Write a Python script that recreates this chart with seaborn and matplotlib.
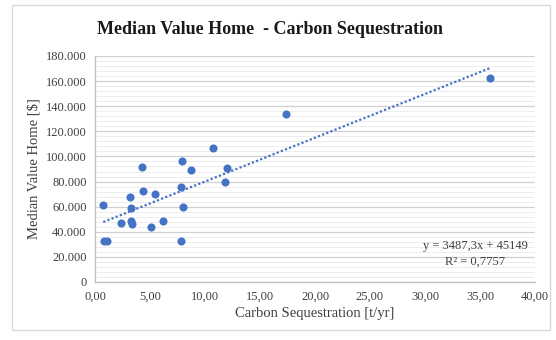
import matplotlib
matplotlib.use("Agg")
import matplotlib.pyplot as plt
import seaborn as sns
import numpy as np
import pandas as pd
from matplotlib.ticker import MultipleLocator, FuncFormatter
from matplotlib.patches import Rectangle

carbon = [0.75, 0.82, 1.06, 2.34, 3.18, 3.27, 3.25, 3.39, 4.30, 4.34, 5.06, 5.43,
          6.18, 7.94, 8.75, 7.79, 7.97, 7.85, 10.73, 11.97, 11.85, 17.36, 35.9]
home_value = [61200, 32600, 32600, 46700, 67800, 59100, 48500, 46100, 91200, 72600,
              44000, 69800, 48300, 96500, 89100, 75300, 59700, 32600, 106600, 90900,
              79500, 133600, 162500]
slope = 3487.3
intercept = 45149
eq_text = "y = 3487,3x + 45149"
r2_text = "R² = 0,7757"

df = pd.DataFrame({"x": carbon, "y": home_value})

sns.set_theme(style="white")
plt.rcParams["font.family"] = ["Liberation Serif", "DejaVu Serif"]

fig = plt.figure(figsize=(5.56, 3.4), dpi=100)
ax = fig.add_axes([95/556, 1-282/340, 440/556, 226/340])

blue = "#4472C4"
ax.set_xlim(0, 40)
ax.set_ylim(0, 180000)
ax.yaxis.set_major_locator(MultipleLocator(20000))
ax.yaxis.set_minor_locator(MultipleLocator(4000))
ax.xaxis.set_major_locator(MultipleLocator(5))
ax.grid(False)
ax.grid(axis="y", which="major", color="#d0d0d0", linewidth=0.9, zorder=0)
ax.grid(axis="y", which="minor", color="#ededed", linewidth=0.7, zorder=0)
ax.set_axisbelow(True)

xs = np.array([min(carbon), max(carbon)])
ax.plot(xs, slope * xs + intercept, linestyle=(0, (1, 1)), color=blue, linewidth=1.6, zorder=2)
sns.scatterplot(data=df, x="x", y="y", ax=ax, color=blue, s=34, edgecolor=blue, linewidth=0, zorder=3)

ax.yaxis.set_major_formatter(FuncFormatter(lambda v, p: "0" if v == 0 else f"{int(v):,}".replace(",", ".")))
ax.xaxis.set_major_formatter(FuncFormatter(lambda v, p: f"{v:.2f}".replace(".", ",")))

for s in ["top", "right"]:
    ax.spines[s].set_visible(False)
for s in ["left", "bottom"]:
    ax.spines[s].set_color("#bfbfbf")
    ax.spines[s].set_linewidth(0.9)
ax.tick_params(axis="both", which="major", length=3, width=0.8, color="#bfbfbf",
               labelsize=9, labelcolor="#404040", pad=3)
ax.tick_params(axis="y", which="minor", length=0)
ax.tick_params(axis="x", direction="out")
ax.tick_params(axis="y", direction="out")

ax.set_xlabel("Carbon Sequestration [t/yr]", fontsize=10.5, color="#404040", labelpad=3)
ax.set_ylabel("Median Value Home [$]", fontsize=10.5, color="#404040", labelpad=4)

fig.text(270/556, 1-29/340, "Median Value Home  - Carbon Sequestration", ha="center", va="center",
         fontsize=13, fontweight="bold", color="#1a1a1a")

ax.text(475/556, 1-246/340, eq_text, transform=fig.transFigure, ha="center", va="center",
        fontsize=9, color="#404040")
ax.text(475/556, 1-262/340, r2_text, transform=fig.transFigure, ha="center", va="center",
        fontsize=9, color="#404040")

fig.patches.append(Rectangle((12/556, 1-330/340), 538/556, 325/340, transform=fig.transFigure,
                             fill=False, edgecolor="#d9d9d9", linewidth=1))

fig.savefig("out.png", dpi=100)
